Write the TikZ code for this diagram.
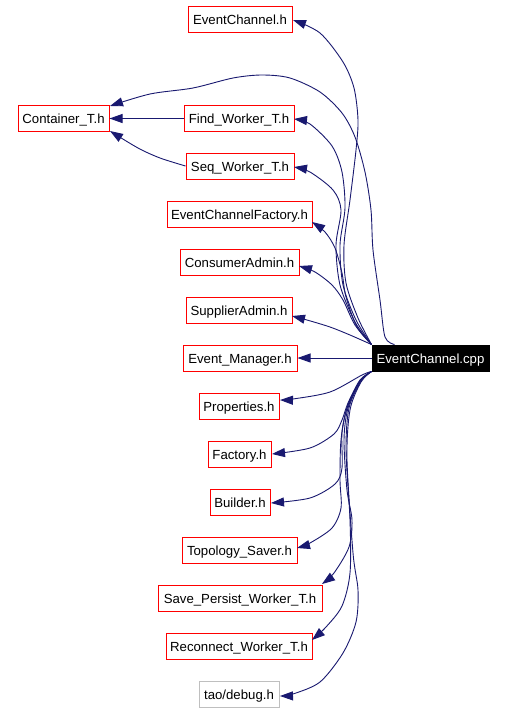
\documentclass[tikz,border=0pt]{standalone}
\usepackage{fontspec}
\setmainfont{Liberation Sans}
\usetikzlibrary{arrows.meta}
\definecolor{edgeblue}{HTML}{191970}
\definecolor{boxred}{HTML}{FF0000}
\definecolor{boxgray}{HTML}{BFBFBF}
\begin{document}
\begin{tikzpicture}[x=1pt,y=-1pt,
  box/.style={draw=boxred,line width=1pt,minimum height=26pt,inner sep=0pt,
    text height=10.5pt,text depth=0.5pt,
    font=\fontsize{13.2}{15}\selectfont,text=black},
  graybox/.style={box,draw=boxgray},
  mainbox/.style={box,draw=black,fill=black,text=white},
  edge/.style={draw=edgeblue,line width=0.9pt,
    -{Triangle[length=13pt,width=9pt]}}]
\useasboundingbox[fill=white] (0,0) rectangle (507,712);
\node[box,minimum width=104pt] (ech) at (240,19.5) {EventChannel.h};
\node[box,minimum width=91pt] (cont) at (63.5,118.5) {Container\_T.h};
\node[box,minimum width=110pt] (find) at (239,118.5) {Find\_Worker\_T.h};
\node[box,minimum width=108pt] (seq) at (240,166) {Seq\_Worker\_T.h};
\node[box,minimum width=145pt] (ecf) at (239.5,214) {EventChannelFactory.h};
\node[box,minimum width=119pt] (cons) at (239.5,262) {ConsumerAdmin.h};
\node[box,minimum width=106pt] (supp) at (239,310) {SupplierAdmin.h};
\node[box,minimum width=114pt] (evm) at (240,358) {Event\_Manager.h};
\node[mainbox,minimum width=117pt] (cpp) at (430.5,358) {EventChannel.cpp};
\node[box,minimum width=80pt] (prop) at (239,406) {Properties.h};
\node[box,minimum width=63pt] (fact) at (239.5,454) {Factory.h};
\node[box,minimum width=60pt] (build) at (240,502) {Builder.h};
\node[box,minimum width=115pt] (topo) at (239.5,550) {Topology\_Saver.h};
\node[box,minimum width=164pt] (save) at (240,598) {Save\_Persist\_Worker\_T.h};
\node[box,minimum width=146pt] (recon) at (239,646) {Reconnect\_Worker\_T.h};
\node[graybox,minimum width=80pt] (debug) at (239,694) {tao/debug.h};
% edges between headers
\draw[edge] (find.west) -- (cont.east);
\draw[edge] plot[smooth] coordinates {(seq.west) (160,158) (138,148) (110,131)};
% upper edges
\draw[edge] plot[smooth] coordinates {(cpp.north west) (358,318) (346,283) (344,245) (350,200) (356,150) (358,120) (354,88) (343,62) (320,33) (293,20)};
\draw[edge] plot[smooth] coordinates {([xshift=23pt]cpp.north west) (385,337) (380,300) (373,250) (371,210) (365,172) (355,137) (342,113) (320,92) (290,78) (262,75) (233,78) (193,88) (150,94) (110,106)};
\draw[edge] plot[smooth] coordinates {(cpp.north west) (356,320) (343,285) (340,245) (345,208) (342,172) (332,146) (310,124) (294,119)};
\draw[edge] plot[smooth] coordinates {(cpp.north west) (355,322) (340,285) (336,245) (341,210) (333,190) (310,172) (294,167)};
\draw[edge] plot[smooth] coordinates {(cpp.north west) (357,327) (346,297) (342,273) (335,248) (325,232) (312,222)};
\draw[edge] plot[smooth] coordinates {(cpp.north west) (355,325) (343,300) (332,285) (315,272) (299,266)};
\draw[edge] plot[smooth] coordinates {(cpp.north west) (350,335) (330,327) (307,320) (292,316)};
\draw[edge] (cpp.west) -- (evm.east);
% lower edges
\draw[edge] plot[smooth] coordinates {(cpp.south west) (362,375) (330,392) (293,399) (280,400)};
\draw[edge] plot[smooth] coordinates {(cpp.south west) (360,380) (348,403) (342,420) (334,434) (310,448) (272,454)};
\draw[edge] plot[smooth] coordinates {(cpp.south west) (360,381) (348,405) (342,432) (342,468) (335,484) (310,498) (271,503)};
\draw[edge] plot[smooth] coordinates {(cpp.south west) (360,381) (347,408) (341,440) (340,480) (341,508) (332,528) (310,543) (297,548)};
\draw[edge] plot[smooth] coordinates {(cpp.south west) (360,381) (348,408) (344,440) (347,490) (352,520) (349,547) (334,573) (322,584)};
\draw[edge] plot[smooth] coordinates {(cpp.south west) (361,381) (349,408) (346,450) (350,520) (350,573) (342,606) (326,627) (312,640)};
\draw[edge] plot[smooth] coordinates {(cpp.south west) (361,382) (350,410) (347,460) (353,553) (358,590) (356,622) (343,653) (320,682) (293,694) (280,696)};
\end{tikzpicture}
\end{document}
